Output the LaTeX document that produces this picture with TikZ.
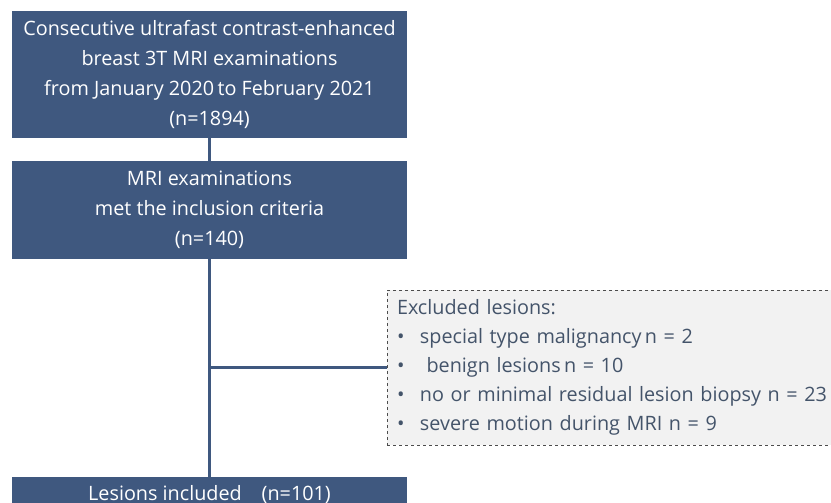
\documentclass[tikz,border=0pt]{standalone}
\usepackage{fontspec}
\setmainfont{Open Sans}
\usetikzlibrary{positioning}
\definecolor{boxblue}{RGB}{63,88,127}
\definecolor{exclgray}{RGB}{242,242,242}
\definecolor{excltext}{RGB}{68,84,106}
\newcommand{\bul}{\makebox[23pt][l]{\textbullet}}
\begin{document}
\begin{tikzpicture}[x=1pt,y=-1pt,
  flowbox/.style={fill=boxblue,text=white,minimum width=395pt,align=center,inner sep=0,
    font=\fontsize{19.8}{30}\selectfont},
  exclbox/.style={fill=exclgray,draw=black!70,dashed,line width=0.8pt,text=excltext,
    text width=438pt,inner xsep=10pt,minimum height=155pt,align=left,
    font=\fontsize{19.8}{29}\selectfont},
  link/.style={draw=boxblue,line width=2.6pt}]
\clip (0,0) rectangle (831,503); %page size

\node[flowbox,minimum height=127pt] (src) at (209.5,74.5)
  {Consecutive ultrafast contrast-enhanced\\breast 3T MRI examinations\\from January 2020\,to February 2021\\(n=1894)};
\node[flowbox,minimum height=98pt] (incl) at (209.5,210)
  {MRI examinations\\met the inclusion criteria\\(n=140)};
\node[flowbox,minimum height=36pt] (lesion) at (209.5,495)
  {Lesions included\quad(n=101)};
\node[exclbox] (excl) at (616,367.5)
  {Excluded lesions:\\
   \bul special type malignancy\,n = 2\\
   \bul\ benign lesions\,n = 10\\
   \bul no or minimal residual lesion biopsy n = 23\\
   \bul severe motion during MRI n = 9};

\draw[link] (src.south) -- (incl.north);
\draw[link] (incl.south) -- (lesion.north);
\draw[link] (incl.south |- excl.west) -- (excl.west); %to excluded
\end{tikzpicture}
\end{document}
